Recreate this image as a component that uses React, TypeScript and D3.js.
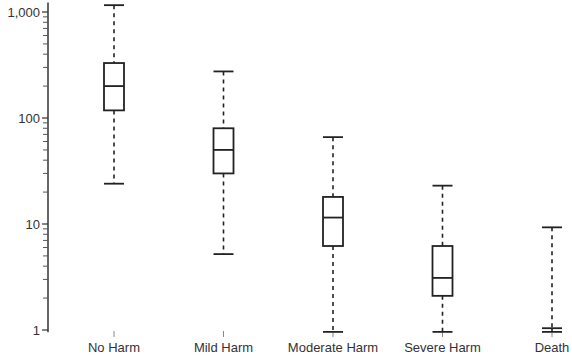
import { useEffect, useRef } from 'react'
import * as d3 from 'd3'

const categories = ['No Harm', 'Mild Harm', 'Moderate Harm', 'Severe Harm', 'Death']
const whiskerHigh = [1160, 275, 66, 23, 9.3]
const q3 = [330, 80, 18, 6.2, 1.04]
const median = [200, 50, 11.5, 3.1, 1.04]
const q1 = [118, 30, 6.2, 2.1, 1.04]
const whiskerLow = [24, 5.2, 0.96, 0.96, 0.96]
const yTicks = [1, 10, 100, 1000]

export default function App() {
  const ref = useRef<SVGSVGElement>(null)

  useEffect(() => {
    const width = 572
    const height = 358
    const svg = d3.select(ref.current)
    svg.selectAll('*').remove()

    const rows = categories.map((c, i) => ({
      cat: c,
      hi: whiskerHigh[i],
      q3: q3[i],
      med: median[i],
      q1: q1[i],
      lo: whiskerLow[i],
    }))

    const x = d3.scalePoint<string>().domain(categories).range([114, 552])
    const y = d3.scaleLog().domain([1, 1000]).range([330, 12])
    const axisX = 48

    // Y axis
    const minor: number[] = []
    for (let d = 1; d <= 1000; d *= 10) {
      for (let k = 2; k <= 9; k++) if (d * k <= 1200) minor.push(d * k)
    }

    const ya = svg.append('g')
    ya.append('line')
      .attr('x1', axisX).attr('x2', axisX)
      .attr('y1', y(0.95)).attr('y2', y(1230))
      .attr('stroke', '#333').attr('stroke-width', 1.5)

    ya.selectAll('.minor')
      .data(minor)
      .join('line')
      .attr('x1', axisX - 5).attr('x2', axisX)
      .attr('y1', d => y(d)).attr('y2', d => y(d))
      .attr('stroke', '#555').attr('stroke-width', 1)

    ya.selectAll('.major')
      .data(yTicks)
      .join('line')
      .attr('x1', axisX - 6).attr('x2', axisX)
      .attr('y1', d => y(d)).attr('y2', d => y(d))
      .attr('stroke', '#333').attr('stroke-width', 1.2)

    ya.selectAll('text')
      .data(yTicks)
      .join('text')
      .attr('x', axisX - 8)
      .attr('y', d => y(d))
      .attr('dy', '0.35em')
      .attr('text-anchor', 'end')
      .style('font-family', 'Arial, "Liberation Sans", sans-serif')
      .style('font-size', '13px')
      .style('fill', '#333')
      .text(d => d3.format(',')(d))

    // X ticks and labels
    const xa = svg.append('g')
    xa.selectAll('line')
      .data(categories)
      .join('line')
      .attr('x1', d => x(d)!).attr('x2', d => x(d)!)
      .attr('y1', 331).attr('y2', 337)
      .attr('stroke', '#888').attr('stroke-width', 1)
    xa.selectAll('text')
      .data(categories)
      .join('text')
      .attr('x', d => x(d)!)
      .attr('y', 352)
      .attr('text-anchor', 'middle')
      .style('font-family', 'Arial, "Liberation Sans", sans-serif')
      .style('font-size', '13px')
      .style('fill', '#333')
      .text(d => d)

    // Boxes
    const bw = 20
    const g = svg.append('g')
      .selectAll('g')
      .data(rows)
      .join('g')
      .attr('transform', d => `translate(${x(d.cat)},0)`)

    g.append('line')
      .attr('y1', d => y(d.hi)).attr('y2', d => y(d.q3))
      .attr('stroke', '#222').attr('stroke-width', 1.6)
      .attr('stroke-dasharray', '4,4')
    g.append('line')
      .attr('y1', d => y(d.q1)).attr('y2', d => y(d.lo))
      .attr('stroke', '#222').attr('stroke-width', 1.6)
      .attr('stroke-dasharray', '4,4')

    g.append('line')
      .attr('x1', -bw / 2).attr('x2', bw / 2)
      .attr('y1', d => y(d.hi)).attr('y2', d => y(d.hi))
      .attr('stroke', '#222').attr('stroke-width', 1.8)
    g.append('line')
      .attr('x1', -bw / 2).attr('x2', bw / 2)
      .attr('y1', d => y(d.lo)).attr('y2', d => y(d.lo))
      .attr('stroke', '#222').attr('stroke-width', 1.8)

    g.append('rect')
      .attr('x', -bw / 2)
      .attr('width', bw)
      .attr('y', d => y(d.q3))
      .attr('height', d => y(d.q1) - y(d.q3))
      .attr('fill', 'white')
      .attr('stroke', '#222').attr('stroke-width', 1.8)
    g.append('line')
      .attr('x1', -bw / 2).attr('x2', bw / 2)
      .attr('y1', d => y(d.med)).attr('y2', d => y(d.med))
      .attr('stroke', '#222').attr('stroke-width', 1.8)

    svg.attr('width', width).attr('height', height)
  }, [])

  return (
    <svg
      ref={ref}
      width={572}
      height={358}
      style={{ position: 'absolute', left: 0, top: 0, background: 'white' }}
    />
  )
}
